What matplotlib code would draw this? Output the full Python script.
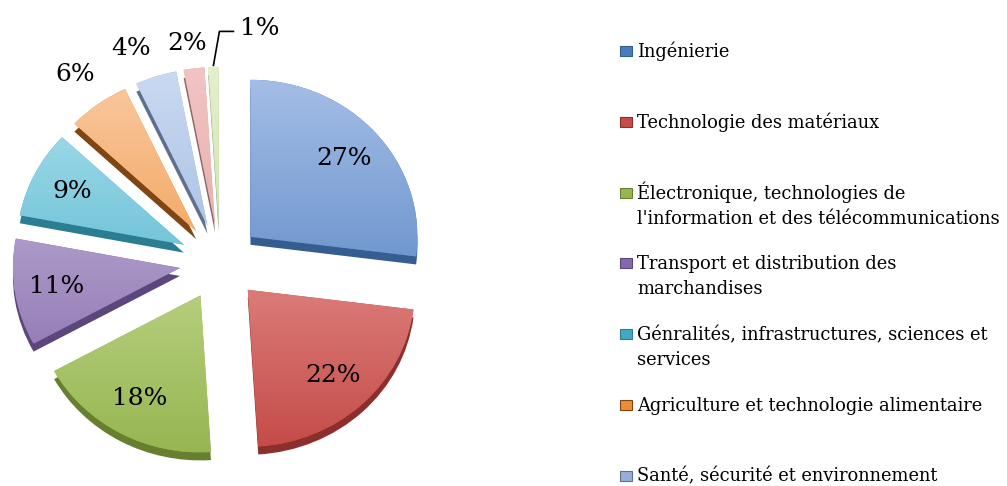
import numpy as np
import matplotlib.pyplot as plt
from matplotlib.patches import Rectangle
from matplotlib.colors import LinearSegmentedColormap

# part of each field, in percent
values = [27, 22, 18, 11, 9, 6, 4, 2, 1]
# only the first seven names fit in the legend box of the original
labels = [
    "Ingénierie",
    "Technologie des matériaux",
    "Électronique, technologies de\nl'information et des télécommunications",
    "Transport et distribution des\nmarchandises",
    "Génralités, infrastructures, sciences et\nservices",
    "Agriculture et technologie alimentaire",
    "Santé, sécurité et environnement",
]

top_colors = ["#a3bde6", "#f0aaa8", "#d3e6a6", "#c8bbdd", "#a8e0ee", "#f9c9a0", "#c9d9f2", "#f1c4c3", "#e3f0cc"]
bottom_colors = ["#4a7bbd", "#c54c48", "#97b652", "#8569aa", "#41a9c4", "#ee8d34", "#94afd8", "#df9f9e", "#c4dca0"]
side_colors = ["#355d8f", "#8c2f2c", "#66802f", "#5b477c", "#2b7d92", "#7f4614", "#5f708e", "#8f6766", "#8a9a70"]

W, H = 1007, 486
YS = 0.94          # vertical squash of the tilted pie
fs_pct = 18
fs_leg = 12.9
font = "DejaVu Serif"

fig = plt.figure(figsize=(W / 100, H / 100), dpi=100)
ax = fig.add_axes([0, 0, 1, 1])

cx, cy = 220, (H - 262) / YS
r = 167
explode = [0.243 * r] * len(values)   # pie() takes the shift in data units

# thickness of the slices, seen below the top faces
ax.pie(values, colors=side_colors, explode=explode, startangle=90, counterclock=False,
       radius=r, center=(cx, cy - 8 / YS), frame=True,
       wedgeprops=dict(linewidth=0))

wedges, texts, autotexts = ax.pie(
    values, colors=bottom_colors, explode=explode, startangle=90, counterclock=False,
    radius=r, center=(cx, cy), frame=True, autopct="%1.0f%%", pctdistance=0.75,
    wedgeprops=dict(linewidth=0), textprops=dict(fontsize=fs_pct, family=font, color="black"))

# vertical light-to-dark gradient on each top face
grad = np.linspace(0, 1, 200)[:, None]
for w, c_lo, c_hi in zip(wedges, bottom_colors, top_colors):
    wx, wy = w.center
    cmap = LinearSegmentedColormap.from_list("", [c_lo, c_hi])
    im = ax.imshow(grad, cmap=cmap, origin="lower", aspect="auto", interpolation="bilinear",
                   extent=(wx - r, wx + r, wy - r, wy + r), zorder=2)
    im.set_clip_path(w)

# small slices get their labels outside: (distance in radii, extra angle in degrees)
out_pos = {6: (1.23, 0), 4: (1.22, 4), 2: (1.16, 1)}
for w, t, v in zip(wedges, autotexts, values):
    t.set_zorder(5)
    th = np.radians((w.theta1 + w.theta2) / 2)
    wx, wy = w.center
    if v in out_pos:
        d, dth = out_pos[v]
        a = th + np.radians(dth)
        t.set_position((wx + d * r * np.cos(a), wy + d * r * np.sin(a)))
    elif v == 1:
        p0 = (wx + 1.01 * r * np.cos(th), wy + 1.01 * r * np.sin(th))
        p1 = (p0[0] + 6, p0[1] + 34 / YS)
        p2 = (p1[0] + 14, p1[1])
        ax.plot([p0[0], p1[0], p2[0]], [p0[1], p1[1], p2[1]], color="black", lw=1.2, zorder=5)
        t.set_position((p2[0] + 7, p2[1] + 3 / YS))
        t.set_ha("left")

ax.set_aspect("auto")
ax.set_xlim(0, W)
ax.set_ylim(0, H / YS)
ax.axis("off")

# legend, drawn by hand as in the original (fixed row pitch, text from the top)
for i, lab in enumerate(labels):
    yc = 51 + 70.8 * i
    fig.add_artist(Rectangle((620 / W, 1 - (yc + 5) / H), 12 / W, 10 / H, transform=fig.transFigure,
                             facecolor=bottom_colors[i], edgecolor=side_colors[i], lw=0.8))
    for k, line in enumerate(lab.split("\n")):
        fig.text(637 / W, 1 - (yc + 6 + 25 * k) / H, line, va="baseline", ha="left",
                 fontsize=fs_leg, family=font, color="black")

fig.savefig("out.png", dpi=100, facecolor="white")
